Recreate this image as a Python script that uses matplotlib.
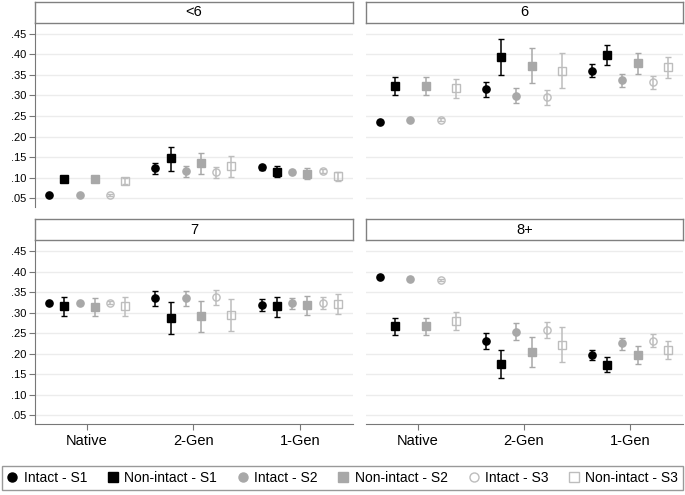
import numpy as np
import matplotlib
matplotlib.use('Agg')
import matplotlib.pyplot as plt
from matplotlib.lines import Line2D

plt.rcParams['font.family'] = ['Liberation Sans', 'DejaVu Sans']

categories = ['Native', '2-Gen', '1-Gen']
series = ['Intact - S1', 'Non-intact - S1', 'Intact - S2',
          'Non-intact - S2', 'Intact - S3', 'Non-intact - S3']
panel_titles = ['<6', '6', '7', '8+']
yticks = [0.05, 0.10, 0.15, 0.20, 0.25, 0.30, 0.35, 0.40, 0.45]
ytick_labels = ['.05', '.10', '.15', '.20', '.25', '.30', '.35', '.40', '.45']

# estimates / lower / upper, one row per series, columns = categories
lt6_est = [[0.058, 0.123, 0.125], [0.097, 0.147, 0.115], [0.058, 0.116, 0.115],
           [0.097, 0.135, 0.110], [0.058, 0.113, 0.116], [0.091, 0.128, 0.104]]
lt6_lo = [[0.055, 0.110, 0.120], [0.090, 0.117, 0.102], [0.055, 0.103, 0.110],
          [0.090, 0.109, 0.097], [0.055, 0.099, 0.111], [0.084, 0.103, 0.093]]
lt6_hi = [[0.061, 0.136, 0.130], [0.105, 0.174, 0.128], [0.061, 0.129, 0.120],
          [0.105, 0.161, 0.123], [0.061, 0.127, 0.121], [0.099, 0.152, 0.115]]

six_est = [[0.236, 0.315, 0.360], [0.323, 0.393, 0.398], [0.240, 0.299, 0.337],
           [0.323, 0.371, 0.378], [0.241, 0.295, 0.332], [0.317, 0.360, 0.369]]
six_lo = [[0.232, 0.297, 0.345], [0.300, 0.350, 0.373], [0.237, 0.281, 0.321],
          [0.302, 0.330, 0.352], [0.238, 0.277, 0.316], [0.294, 0.319, 0.342]]
six_hi = [[0.240, 0.333, 0.377], [0.345, 0.437, 0.423], [0.243, 0.317, 0.353],
          [0.345, 0.414, 0.403], [0.244, 0.313, 0.348], [0.339, 0.402, 0.394]]

seven_est = [[0.323, 0.335, 0.319], [0.316, 0.287, 0.316], [0.323, 0.335, 0.324],
             [0.315, 0.291, 0.319], [0.324, 0.338, 0.324], [0.316, 0.294, 0.322]]
seven_lo = [[0.319, 0.316, 0.304], [0.293, 0.249, 0.290], [0.319, 0.316, 0.309],
            [0.293, 0.254, 0.295], [0.320, 0.319, 0.309], [0.292, 0.256, 0.297]]
seven_hi = [[0.327, 0.353, 0.333], [0.338, 0.325, 0.338], [0.327, 0.353, 0.337],
            [0.337, 0.329, 0.341], [0.328, 0.356, 0.338], [0.338, 0.333, 0.346]]

eight_est = [[0.388, 0.231, 0.198], [0.268, 0.176, 0.173], [0.383, 0.253, 0.226],
             [0.268, 0.205, 0.198], [0.379, 0.259, 0.232], [0.281, 0.222, 0.210]]
eight_lo = [[0.384, 0.212, 0.184], [0.245, 0.142, 0.155], [0.380, 0.233, 0.210],
            [0.246, 0.167, 0.176], [0.376, 0.239, 0.216], [0.258, 0.181, 0.187]]
eight_hi = [[0.392, 0.250, 0.210], [0.288, 0.210, 0.193], [0.386, 0.274, 0.239],
            [0.288, 0.242, 0.218], [0.382, 0.278, 0.248], [0.301, 0.264, 0.232]]

panel_data = [(lt6_est, lt6_lo, lt6_hi), (six_est, six_lo, six_hi),
              (seven_est, seven_lo, seven_hi), (eight_est, eight_lo, eight_hi)]

# marker, color, filled
styles = [('o', 'black', True), ('s', 'black', True),
          ('o', '#a8a8a8', True), ('s', '#a8a8a8', True),
          ('o', '#bdbdbd', False), ('s', '#bdbdbd', False)]
offsets = np.array([-2.5, -1.5, -0.5, 0.5, 1.5, 2.5]) * 0.143

W, H = 685, 495
fig = plt.figure(figsize=(W / 100, H / 100), dpi=100)


def frac(x0, y0, x1, y1):
    return [x0 / W, 1 - y1 / H, (x1 - x0) / W, (y1 - y0) / H]


col_x = [(35, 353), (366, 683)]
row_y = [(2, 22.5, 207), (219, 240, 424)]
border = '#808080'

for k, title in enumerate(panel_titles):
    r, c = divmod(k, 2)
    x0, x1 = col_x[c]
    t0, t1, b = row_y[r]

    ax = fig.add_axes(frac(x0, t1, x1, b))
    est, lo, hi = panel_data[k]
    xpos = np.arange(1, len(categories) + 1)
    for i, (m, col, filled) in enumerate(styles):
        e = np.array(est[i])
        yerr = [e - np.array(lo[i]), np.array(hi[i]) - e]
        ms = 5.2 if m == 'o' else 5.6
        ax.errorbar(xpos + offsets[i], e, yerr=yerr, fmt=m, color=col,
                    ecolor=col, elinewidth=1.1, capsize=2.2, capthick=1.1,
                    markersize=ms, markeredgewidth=1.0,
                    markerfacecolor=col if filled else 'none',
                    markeredgecolor=col, zorder=3)

    ax.set_xlim(0.51, 3.5)
    ax.set_ylim(0.029, 0.477)
    ax.set_yticks(yticks)
    ax.grid(axis='y', color='#ececec', linewidth=1)
    ax.set_axisbelow(True)
    ax.spines['top'].set_visible(False)
    ax.spines['right'].set_visible(False)
    for s in ax.spines.values():
        s.set_color('#777777')
    if c == 0:
        ax.set_yticklabels(ytick_labels, fontsize=8)
        ax.tick_params(axis='y', length=4, color='#777777', pad=2)
    else:
        ax.spines['left'].set_visible(False)
        ax.tick_params(axis='y', length=0, labelleft=False)
    if r == 1:
        ax.set_xticks(xpos)
        ax.set_xticklabels(categories, fontsize=10.5)
        ax.tick_params(axis='x', length=4, color='#777777', pad=3)
    else:
        ax.spines['bottom'].set_visible(False)
        ax.set_xticks([])

    # title strip, added after the plot so its border sits on top
    tax = fig.add_axes(frac(x0, t0, x1, t1))
    tax.set_xticks([])
    tax.set_yticks([])
    for s in tax.spines.values():
        s.set_color(border)
        s.set_linewidth(1)
    tax.text(0.5, 0.5, title, ha='center', va='center', fontsize=10.5,
             transform=tax.transAxes)

handles = []
for (m, col, filled), lab in zip(styles, series):
    handles.append(Line2D([], [], linestyle='none', marker=m, color=col,
                          markersize=6.5,
                          markerfacecolor=col if filled else 'none',
                          markeredgecolor=col, label=lab))

lax = frac(2, 462, 683, 490)
leg = fig.legend(handles=handles, ncol=6, loc='lower left',
                 bbox_to_anchor=(lax[0], lax[1], lax[2], lax[3]),
                 mode='expand', fontsize=10, frameon=True, fancybox=False,
                 handlelength=0.8, handletextpad=0.4, columnspacing=1.0,
                 borderaxespad=0, borderpad=0.35)
leg.get_frame().set_edgecolor(border)
leg.get_frame().set_linewidth(1)

fig.savefig('out.png', dpi=100)
